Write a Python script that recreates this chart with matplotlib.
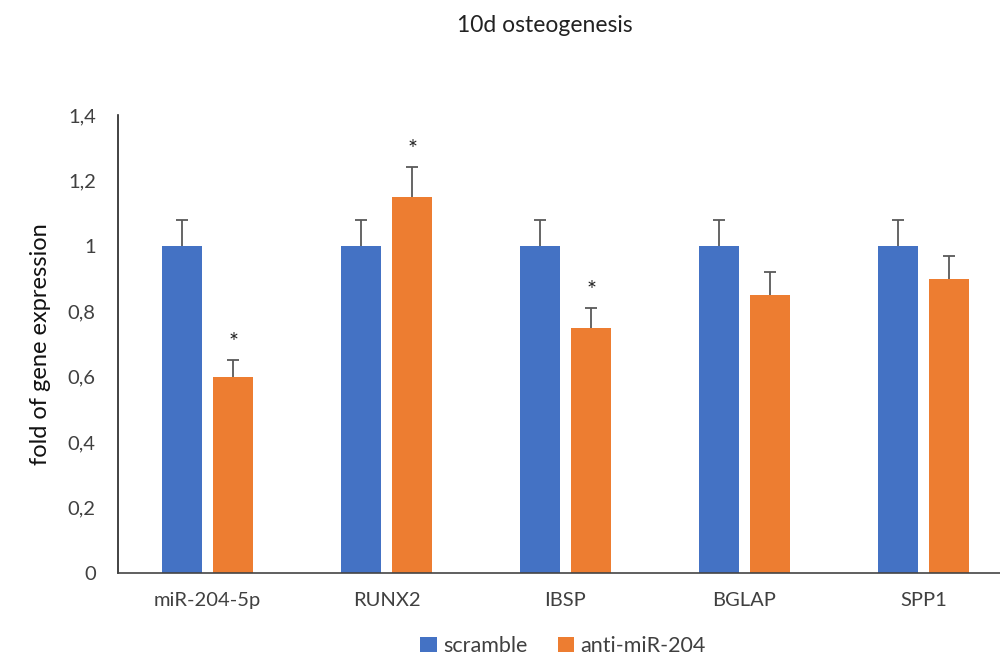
import numpy as np
import matplotlib
matplotlib.use("Agg")
import matplotlib.pyplot as plt

plt.rcParams['font.family'] = ['Lato', 'DejaVu Sans']

genes = ['miR-204-5p', 'RUNX2', 'IBSP', 'BGLAP', 'SPP1']
scramble = [1.0, 1.0, 1.0, 1.0, 1.0]
scramble_err = [0.08, 0.08, 0.08, 0.08, 0.08]
anti = [0.60, 1.15, 0.75, 0.85, 0.90]
anti_err = [0.05, 0.09, 0.06, 0.07, 0.07]
significant = [True, True, True, False, False]
yticks = [0, 0.2, 0.4, 0.6, 0.8, 1.0, 1.2, 1.4]
ytick_labels = ['0', '0,2', '0,4', '0,6', '0,8', '1', '1,2', '1,4']

blue = '#4472C4'
orange = '#ED7D31'

fig = plt.figure(figsize=(10, 6.66), dpi=100)
ax = fig.add_axes([0.118, 0.1396, 0.895, 0.6877])

x = np.arange(len(genes))
off = 0.143
w = 0.225


def upper_err(xpos, vals, errs):
    # Excel-style "plus" error bars: only the upper whisker and cap
    eb = ax.errorbar(xpos, vals, yerr=[np.zeros(len(vals)), errs], fmt='none',
                     ecolor='#595959', elinewidth=1.3, capsize=4, capthick=1.3)
    eb[1][0].set_visible(False)


ax.bar(x - off, scramble, w, color=blue, label='scramble')
ax.bar(x + off, anti, w, color=orange, label='anti-miR-204')
upper_err(x - off, scramble, scramble_err)
upper_err(x + off, anti, anti_err)

for i, sig in enumerate(significant):
    if sig:
        ax.text(x[i] + off, anti[i] + anti_err[i] + 0.022, '*', ha='center',
                va='bottom', fontsize=17, color='#222222')

ax.set_xlim(-0.5, len(genes) - 0.5)
ax.set_ylim(0, 1.4)
ax.set_yticks(yticks)
ax.set_yticklabels(ytick_labels)
ax.set_xticks(x)
ax.set_xticklabels(genes)
ax.tick_params(axis='both', length=0, labelsize=14.5, colors='#404040')
ax.tick_params(axis='y', pad=16)
ax.tick_params(axis='x', pad=14)
for s in ['top', 'right']:
    ax.spines[s].set_visible(False)
ax.spines['left'].set_color('#222222')
ax.spines['bottom'].set_color('#444444')
ax.spines['left'].set_linewidth(1.2)
ax.spines['bottom'].set_linewidth(1.2)

ax.set_ylabel('fold of gene expression', fontsize=17, color='#111111', labelpad=12)
fig.text(0.545, 0.962, '10d osteogenesis', ha='center', va='center',
         fontsize=16.5, color='#222222')

fig.legend(loc='lower center', bbox_to_anchor=(0.563, -0.014), ncol=2, frameon=False,
           fontsize=15.5, handlelength=0.75, handleheight=0.75, handletextpad=0.3,
           columnspacing=1.4, labelcolor='#404040')

fig.savefig('out.png', dpi=100)
